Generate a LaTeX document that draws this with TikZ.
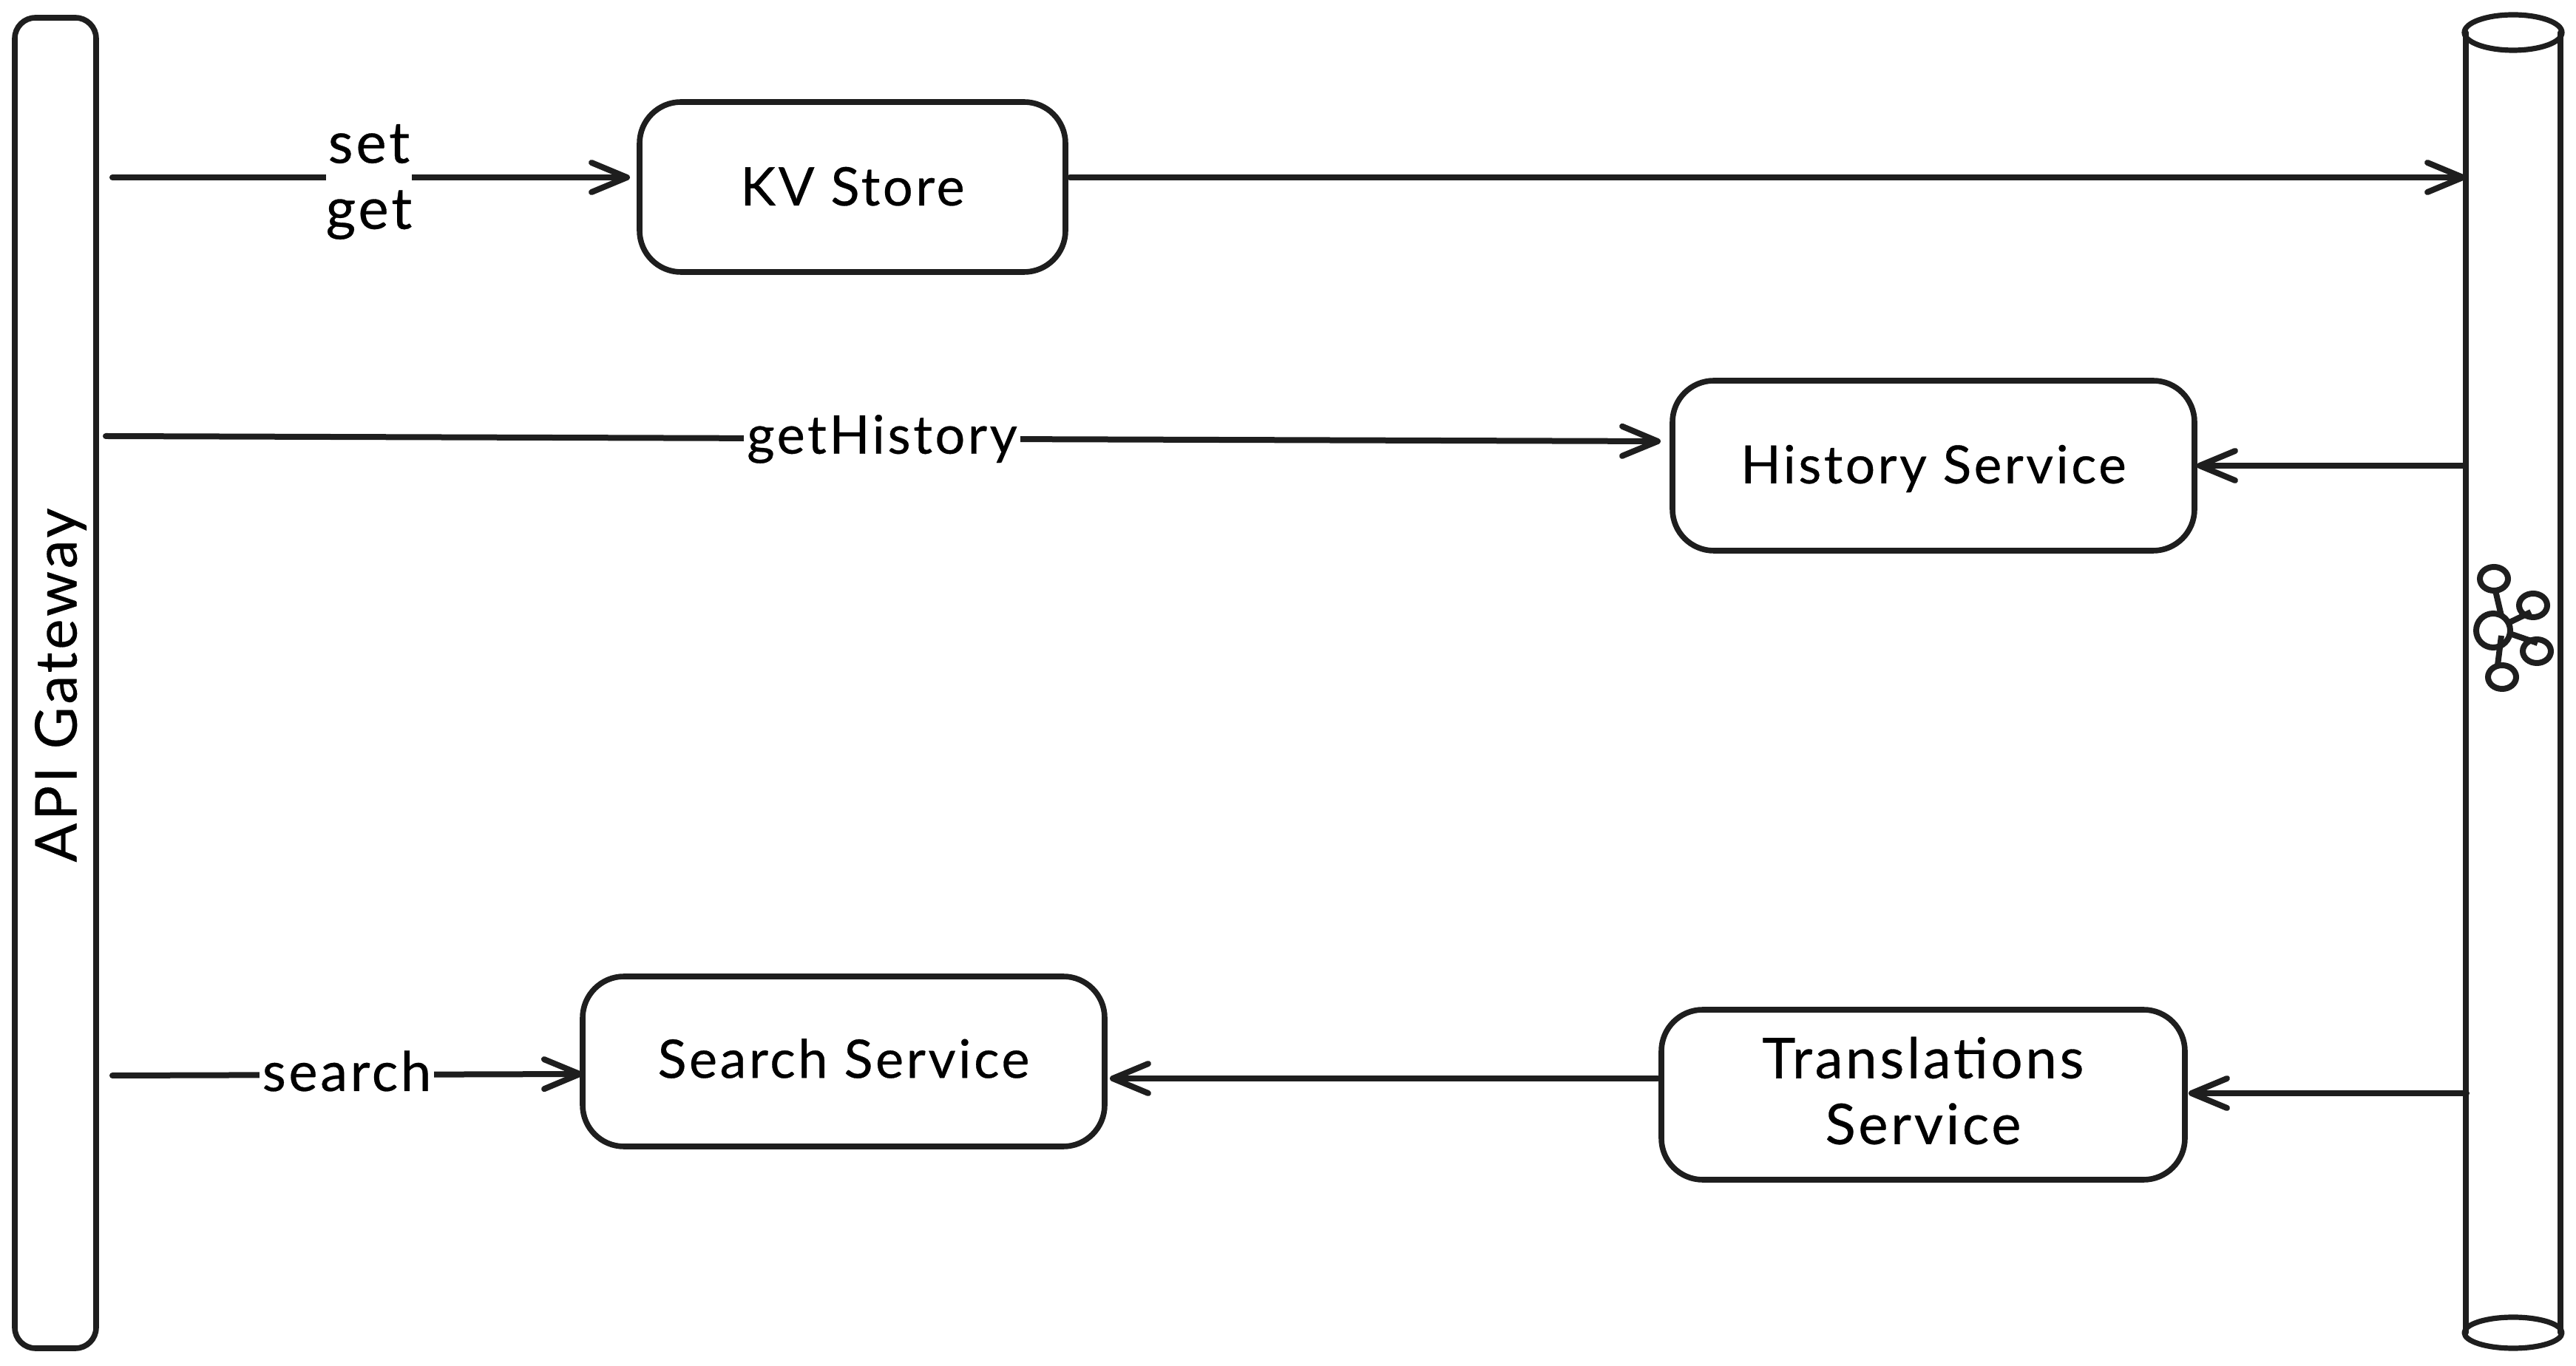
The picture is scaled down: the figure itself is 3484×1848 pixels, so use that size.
\documentclass[tikz,border=0pt]{standalone}
\usepackage{fontspec}
\setmainfont[LetterSpace=5,FakeBold=0.4]{Lato}
\usetikzlibrary{arrows.meta,shapes.geometric}
\definecolor{ink}{HTML}{1E1E1E}
\newcommand{\fs}[1]{\fontsize{#1}{22.3}\selectfont}
\newcommand{\tx}[2]{\raisebox{#1}[\height][\depth]{#2}}
\tikzset{
  x=.25pt,y=-.25pt,
  line/.style={draw=ink,line width=2pt,line cap=round,line join=round},
  arrow/.style={line,-{Straight Barb[length=12pt,width=10pt,line cap=round,line join=round]}},
  svc/.style={draw=ink,line width=1.9pt,rounded corners=14pt,minimum width=178pt,minimum height=57.5pt,align=center,font=\fs{18},outer sep=0pt,inner sep=0pt},
  lab/.style={fill=white,font=\fs{18},inner sep=1pt,text=black,align=center},
  icon/.style={draw=ink,line width=2pt},
}
\begin{document}
\begin{tikzpicture}
\useasboundingbox (0,0) rectangle (3484,1848);
\node[draw=ink,line width=1.9pt,rounded corners=7pt,minimum width=27.5pt,minimum height=450pt,outer sep=0pt,inner sep=0pt] (api) at (75,924) {};
\node[rotate=90,font=\fs{19.5}] (apilab) at (82,927) {API Gateway};
\node[svc,minimum width=144pt] (kv) at (1153,253) {\tx{.2pt}{KV Store}};
\node[svc,minimum width=176.5pt,font=\fs{17.8}] (hist) at (2615,630) {\tx{-1pt}{History Service}};
\node[svc,minimum width=176.5pt] (search) at (1141,1436) {\tx{1pt}{Search Service}};
\node[svc,minimum width=177pt,font=\fs{19}] (trans) at (2601,1481) {\tx{-1.1pt}{\begin{tabular}{@{}c@{}}Translations\\Service\end{tabular}}};
% bus
\node[minimum width=32pt,minimum height=449pt,inner sep=0pt,outer sep=0pt] (bus) at (3399,927) {};
\draw[line,line width=1.8pt] (bus.west |- 0,44) -- (bus.west |- 0,1803) (bus.east |- 0,44) -- (bus.east |- 0,1803);
\draw[line,line width=1.8pt] (3399,44) ellipse [x radius=66,y radius=24];
\draw[line,line width=1.8pt] (3399,1803) ellipse [x radius=66,y radius=21];
% kafka icon
\draw[icon] (3372,853) ellipse [x radius=23,y radius=23];
\draw[icon] (3373,783) ellipse [x radius=19,y radius=16];
\draw[icon] (3426,819) ellipse [x radius=19,y radius=16];
\draw[icon] (3431,881) ellipse [x radius=19,y radius=16];
\draw[icon] (3384,916) ellipse [x radius=19,y radius=16];
\draw[icon] (3375,799) -- (3383,833) (3394,842) -- (3423,828) (3397,858) -- (3432,870) (3383,860) -- (3378,900);
% labels & connectors
\coordinate (a1) at (152,240);
\coordinate (a2) at (143,590);
\coordinate (a3) at (152,1455);
\coordinate (b4) at (3336,1479);
\draw[arrow] (a1) -- ([shift={(-13,-13)}]kv.west);
\node[lab,inner xsep=0pt,font=\fs{19.5}] (sg) at (499,246) {set\\get};
\draw[arrow] ([shift={(6,-13)}]kv.east) -- (bus.west |- 0,240);
\draw[arrow] (a2) -- ([shift={(-16,-33)}]hist.west);
\node[lab] (gh) at (1193,594) {getHistory};
\draw[arrow] (bus.west |- hist.east) -- ([shift={(3,0)}]hist.east);
\draw[arrow] (a3) -- ([shift={(0,17)}]search.west);
\node[lab,font=\fs{18.5}] (sl) at (469,1449) {search};
\draw[arrow] (b4) -- ([shift={(5,-2)}]trans.east);
\draw[arrow] ([shift={(-5,-22)}]trans.west) -- ([shift={(7,23)}]search.east);
\end{tikzpicture}
\end{document}
